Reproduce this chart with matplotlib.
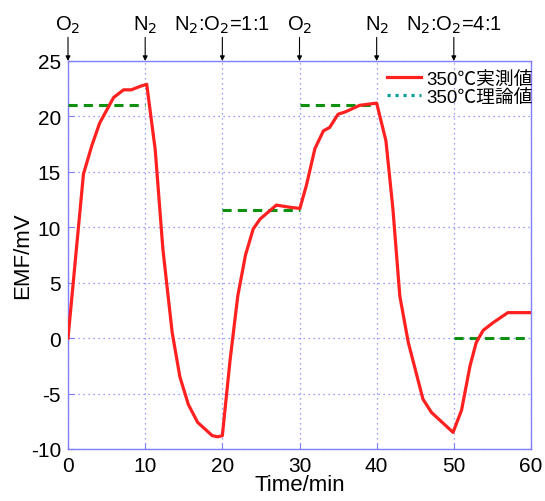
import matplotlib
matplotlib.use("Agg")
import matplotlib.pyplot as plt
from matplotlib.lines import Line2D

plt.rcParams['font.family'] = ['Liberation Sans', 'Noto Sans CJK JP', 'DejaVu Sans']
plt.rcParams['axes.unicode_minus'] = False

# --- measured EMF (350C) ---
time_meas = [0, 2.0, 3.1, 4.1, 5.9, 7.2, 8.2, 9.3, 10.2,
             11.3, 12.3, 13.5, 14.5, 15.6, 16.8, 18.7, 19.4, 20.0,
             21.0, 22.0, 23.0, 24.0, 24.9, 27.0, 28.8, 30.05,
             30.9, 32.0, 33.1, 33.9, 35.0, 35.9, 37.8, 40.0,
             41.2, 42.1, 43.0, 44.1, 46.0, 47.1, 49.9,
             51.0, 52.1, 52.9, 53.8, 55.1, 57.0, 59.9]
emf_meas = [0, 14.8, 17.4, 19.4, 21.7, 22.4, 22.4, 22.7, 22.9,
            17.0, 8.0, 0.5, -3.5, -6.0, -7.6, -8.8, -8.9, -8.8,
            -2.0, 3.8, 7.5, 9.85, 10.75, 12.0, 11.8, 11.7,
            13.8, 17.1, 18.7, 19.0, 20.2, 20.4, 21.0, 21.2,
            17.8, 11.7, 3.8, -0.4, -5.5, -6.7, -8.5,
            -6.5, -2.5, -0.4, 0.7, 1.4, 2.3, 2.3]

# --- theoretical EMF segments (start, end, value) ---
theory_start = [0, 20, 30, 50]
theory_end = [10, 30, 40, 60]
theory_value = [21.0, 11.6, 21.0, 0.0]

# --- gas switching events ---
event_time = [0, 10, 20, 30, 40, 50]
event_label = [r'O$_2$', r'N$_2$', r'N$_2$:O$_2$=1:1', r'O$_2$', r'N$_2$', r'N$_2$:O$_2$=4:1']

fig = plt.figure(figsize=(5.45, 5.02), dpi=100)
ax = fig.add_axes([0.1248, 0.1036, 0.8495, 0.7729])

grid_color = '#7f7fff'
for i in range(len(theory_start)):
    ax.plot([theory_start[i], theory_end[i]], [theory_value[i]] * 2,
            color='#109010', lw=2.2, ls=(0, (3, 2)), zorder=3)
ax.plot(time_meas, emf_meas, color='#ff2020', lw=2.3, zorder=4)

ax.set_xlim(0, 60)
ax.set_ylim(-10, 25)
ax.set_xticks(range(0, 61, 10))
ax.set_yticks(range(-10, 26, 5))
ax.grid(True, color=grid_color, ls=(0, (1, 3)), lw=0.9)
for s in ax.spines.values():
    s.set_color(grid_color)
    s.set_linewidth(1.0)
ax.tick_params(direction='in', length=4, color=grid_color, labelsize=15,
               pad=5)

ax.set_xlabel('Time/min', fontsize=16, labelpad=-1)
ax.set_ylabel('EMF/mV', fontsize=16, labelpad=-2)

for t, lab in zip(event_time, event_label):
    ax.annotate(lab, xy=(t, 25), xycoords='data', xytext=(0, 19),
                textcoords='offset points', ha='center', va='bottom',
                fontsize=14.5,
                arrowprops=dict(arrowstyle='-|>', color='black', lw=0.8,
                                mutation_scale=7, shrinkA=0, shrinkB=0),
                annotation_clip=False)

handles = [Line2D([], [], color='#ff2020', lw=2.3),
           Line2D([], [], color='#10a0a0', lw=2.3, ls=(0, (1, 1.5)))]
ax.legend(handles, ['350℃実測値', '350℃理論値'], loc='upper right',
          bbox_to_anchor=(1.025, 1.0), frameon=False, fontsize=13.5,
          handlelength=1.8, handletextpad=0.3,
          borderaxespad=0.1, labelspacing=0.05)

fig.savefig('out.png', dpi=100)
